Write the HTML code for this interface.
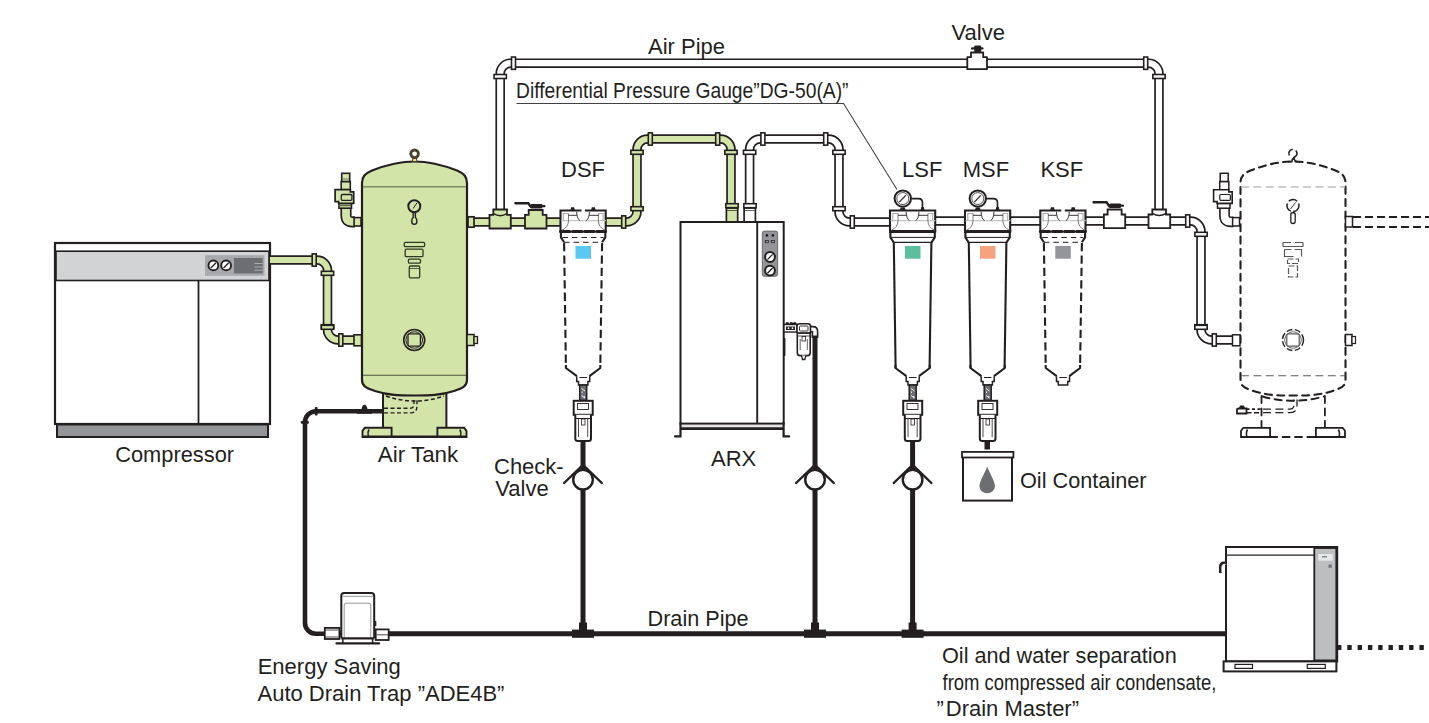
<!DOCTYPE html>
<html><head><meta charset="utf-8"><style>
html,body{margin:0;padding:0;background:#fff;overflow:hidden}
svg{display:block}
text{font-family:"Liberation Sans",sans-serif}
</style></head><body>
<svg width="1429" height="723" viewBox="0 0 1429 723">
<rect x="55" y="243" width="215" height="181" fill="#fff" stroke="#231f20" stroke-width="2.2"/>
<rect x="56" y="251.2" width="213" height="29.3" fill="#d1d3d4" stroke="#231f20" stroke-width="1.6"/>
<line x1="198.5" y1="280.5" x2="198.5" y2="424" stroke="#231f20" stroke-width="1.8"/>
<rect x="57" y="424.5" width="211" height="12.5" fill="#939598" stroke="#231f20" stroke-width="2"/>
<rect x="205" y="255.2" width="59.5" height="20.6" fill="#a7a9ac"/>
<circle cx="213.4" cy="265.4" r="4.9" fill="#fff" stroke="#231f20" stroke-width="1.9"/>
<line x1="210.8" y1="268" x2="216.0" y2="262.8" stroke="#231f20" stroke-width="1.3"/>
<circle cx="226.1" cy="265.4" r="4.9" fill="#fff" stroke="#231f20" stroke-width="1.9"/>
<line x1="223.5" y1="268" x2="228.7" y2="262.8" stroke="#231f20" stroke-width="1.3"/>
<rect x="234" y="258" width="28.6" height="15.4" fill="#6d6e71"/>
<line x1="254.5" y1="263.5" x2="262.6" y2="263.5" stroke="#bcbec0" stroke-width="0.8"/>
<line x1="254.5" y1="267" x2="262.6" y2="267" stroke="#bcbec0" stroke-width="0.8"/>
<line x1="254.5" y1="270.2" x2="262.6" y2="270.2" stroke="#bcbec0" stroke-width="0.8"/>
<text transform="translate(115.2,462.2) scale(1,1.04)" x="0" y="0" font-size="22" fill="#231f20" textLength="118.9" lengthAdjust="spacingAndGlyphs">Compressor</text>
<path d="M270,260 L317.00,260.00 A10.5,10.5 0 0 1 327.50,270.50 L327.50,329.50 A10.5,10.5 0 0 0 338.00,340.00 L356,340" fill="none" stroke="#231f20" stroke-width="9.6"/>
<path d="M270,260 L317.00,260.00 A10.5,10.5 0 0 1 327.50,270.50 L327.50,329.50 A10.5,10.5 0 0 0 338.00,340.00 L356,340" fill="none" stroke="#d3e4a8" stroke-width="6.199999999999999"/>
<rect x="312.20" y="253.85" width="4" height="12.3" fill="#d3e4a8" stroke="#231f20" stroke-width="1.6"/>
<rect x="321.35" y="271.30" width="12.3" height="4" fill="#d3e4a8" stroke="#231f20" stroke-width="1.6"/>
<rect x="321.35" y="324.70" width="12.3" height="4" fill="#d3e4a8" stroke="#231f20" stroke-width="1.6"/>
<rect x="338.80" y="333.85" width="4" height="12.3" fill="#d3e4a8" stroke="#231f20" stroke-width="1.6"/>
<rect x="321.35" y="325.30" width="12.3" height="4" fill="#d3e4a8" stroke="#231f20" stroke-width="1.6"/>
<rect x="354" y="334.8" width="7.5" height="11" fill="#d3e4a8" stroke="#231f20" stroke-width="1.6"/>
<path d="M383,392 L383,437 L446.4,437 L446.4,392 Z" fill="#d3e4a8" stroke="#231f20" stroke-width="2"/>
<path d="M362.5,437 L362.5,430.8 L364.8,427.8 L391.6,427.8 L391.6,437 Z" fill="#d3e4a8" stroke="#231f20" stroke-width="1.9"/>
<path d="M466.5,437 L466.5,430.8 L464.2,427.8 L437.4,427.8 L437.4,437 Z" fill="#d3e4a8" stroke="#231f20" stroke-width="1.9"/>
<path d="M369,429.5 Q367.3,432.3 368.3,436 M459.9,429.5 Q461.6,432.3 460.6,436" fill="none" stroke="#231f20" stroke-width="1.6"/>
<line x1="362.5" y1="436.6" x2="466.5" y2="436.6" stroke="#231f20" stroke-width="2.2"/>
<path d="M362,380 L362,183 C362,176.5 365,173.5 372,170.5 C388,164.3 402,161.5 414.5,161.5 C427,161.5 441,164.3 457,170.5 C464,173.5 467,176.5 467,183 L467,380 C467,386 463,388 454,391 C440,395.5 430,395.5 414.5,395.5 C399,395.5 389,395.5 375,391 C366,388 362,386 362,380 Z" fill="#d3e4a8" stroke="#231f20" stroke-width="2.2"/>
<line x1="363" y1="186.7" x2="466" y2="186.7" stroke="#7f8c68" stroke-width="1.6"/>
<line x1="363" y1="375.3" x2="466" y2="375.3" stroke="#4a5040" stroke-width="1.1"/>
<path d="M386,396 Q414.5,406 444,396" fill="none" stroke="#231f20" stroke-width="1.5" stroke-dasharray="4,2.5"/>
<path d="M384,408.2 L410,408.2 Q414,408.2 414,404 L414,400 M384,412.9 L411,412.9 Q417,412.9 417,406 L417,400" fill="none" stroke="#231f20" stroke-width="1.4" stroke-dasharray="4,2.5"/>
<path d="M412.3,161.5 L413.2,156.5 L416,156.5 L416.9,161.5 Z" fill="#e8d88a" stroke="#4a4030" stroke-width="1"/>
<circle cx="414.6" cy="153.8" r="3.8" fill="#fff" stroke="#4a4030" stroke-width="2.8"/>
<path d="M413.2,212.5 L413.2,217.5 Q411.8,218.5 411.8,220.5 L411.8,222 Q411.8,224.3 414.3,224.3 Q416.8,224.3 416.8,222 L416.8,220.5 Q416.8,218.5 415.4,217.5 L415.4,212.5" fill="#d3e4a8" stroke="#231f20" stroke-width="1.4"/>
<circle cx="414.3" cy="206.2" r="6" fill="#d3e4a8" stroke="#231f20" stroke-width="2"/>
<line x1="413.2" y1="208.5" x2="417" y2="202.8" stroke="#231f20" stroke-width="1"/>
<rect x="404.3" y="242.3" width="20.3" height="4.4" rx="1.2" fill="none" stroke="#2f3a22" stroke-width="1.3"/>
<rect x="405.2" y="249.2" width="17.8" height="7.4" rx="1.2" fill="none" stroke="#2f3a22" stroke-width="1.3"/>
<rect x="408.4" y="259.1" width="12.1" height="4.1" rx="1.2" fill="none" stroke="#2f3a22" stroke-width="1.3"/>
<rect x="409.3" y="266" width="10.4" height="11.8" rx="1.2" fill="none" stroke="#2f3a22" stroke-width="1.3"/>
<line x1="409.8" y1="268.5" x2="419.2" y2="268.5" stroke="#2f3a22" stroke-width="0.8"/>
<circle cx="414.2" cy="340" r="10.5" fill="#d3e4a8" stroke="#231f20" stroke-width="1.6"/>
<circle cx="414.2" cy="340" r="8.3" fill="none" stroke="#231f20" stroke-width="1"/>
<rect x="408" y="333.8" width="12.4" height="12.4" rx="1.5" fill="none" stroke="#231f20" stroke-width="1.3"/>
<rect x="467" y="334.5" width="7" height="11" fill="#d3e4a8" stroke="#231f20" stroke-width="1.5"/>
<rect x="474" y="336.5" width="3.5" height="7" fill="#d3e4a8" stroke="#231f20" stroke-width="1.3"/>
<path d="M346,206 L346,215.8 Q346,221.8 352,221.8 L355,221.8" fill="none" stroke="#231f20" stroke-width="11.2"/>
<path d="M346,206 L346,215.8 Q346,221.8 352,221.8 L355,221.8" fill="none" stroke="#d3e4a8" stroke-width="7.8"/>
<rect x="354.1" y="217.6" width="6.9" height="8.4" fill="#d3e4a8" stroke="#231f20" stroke-width="1.6"/>
<rect x="339" y="203.4" width="12.5" height="4.8" fill="#d3e4a8" stroke="#231f20" stroke-width="1.6"/>
<line x1="339.5" y1="205.6" x2="351" y2="205.6" stroke="#5a6a45" stroke-width="1.2"/>
<rect x="341.2" y="181.5" width="9.1" height="8.2" fill="#d3e4a8" stroke="#231f20" stroke-width="1.6"/>
<rect x="341.7" y="173.3" width="8" height="8.2" fill="#d3e4a8" stroke="#231f20" stroke-width="1.6"/>
<line x1="342.5" y1="179" x2="349" y2="179" stroke="#6a7a55" stroke-width="1"/>
<path d="M335.1,189.7 L350.3,189.7 L350.3,191.9 L353.7,191.9 L353.7,203.4 L338.6,203.4 L338.6,201.6 L335.1,201.6 Z" fill="#d3e4a8" stroke="#231f20" stroke-width="1.7"/>
<rect x="341.3" y="194.5" width="10.6" height="5.8" rx="1" fill="none" stroke="#231f20" stroke-width="1.3"/>
<text transform="translate(377.8,461.9) scale(1,1.04)" x="0" y="0" font-size="22" fill="#231f20" textLength="80.4" lengthAdjust="spacingAndGlyphs">Air Tank</text>
<path d="M383,411.2 L316,411.2 A11,11 0 0 0 305,422.2 L305,623 A10.8,10.8 0 0 0 315.8,633.8 L326,633.8" fill="none" stroke="#231f20" stroke-width="4.6"/>
<rect x="314.8" y="407" width="2.8" height="8.4" rx="1" fill="#231f20"/>
<rect x="300.8" y="420.9" width="8.1" height="2.8" rx="1" fill="#231f20"/>
<path d="M357,413.8 L357,409 L361.5,409 Q362.5,404.8 364.5,404.8 Q366.5,404.8 367.5,409 L372,409 L372,413.8 Z" fill="#231f20"/>
<path d="M500.2,215 L500.20,73.70 A10.5,10.5 0 0 1 510.70,63.20 L1148.50,63.20 A10.5,10.5 0 0 1 1159.00,73.70 L1159,215" fill="none" stroke="#231f20" stroke-width="9.6"/>
<path d="M500.2,215 L500.20,73.70 A10.5,10.5 0 0 1 510.70,63.20 L1148.50,63.20 A10.5,10.5 0 0 1 1159.00,73.70 L1159,215" fill="none" stroke="#ffffff" stroke-width="6.199999999999999"/>
<rect x="494.05" y="74.50" width="12.3" height="4" fill="#ffffff" stroke="#231f20" stroke-width="1.6"/>
<rect x="511.50" y="57.05" width="4" height="12.3" fill="#ffffff" stroke="#231f20" stroke-width="1.6"/>
<rect x="1143.70" y="57.05" width="4" height="12.3" fill="#ffffff" stroke="#231f20" stroke-width="1.6"/>
<rect x="1152.85" y="74.50" width="12.3" height="4" fill="#ffffff" stroke="#231f20" stroke-width="1.6"/>
<path d="M967.3,69.2 L967.3,57.2 L971,57.2 L971,52.5 L983.2,52.5 L983.2,57.2 L987,57.2 L987,69.2 Z" fill="#fff" stroke="#231f20" stroke-width="1.8" stroke-linejoin="round"/>
<rect x="974.2" y="45.5" width="7" height="6.5" rx="1.2" fill="#231f20"/>
<rect x="971" y="47.2" width="12.5" height="2.4" rx="1.2" fill="#231f20"/>
<text transform="translate(951.5,39.5) scale(1,1.04)" x="0" y="0" font-size="22" fill="#231f20">Valve</text>
<text transform="translate(648,54.2) scale(1,1.04)" x="0" y="0" font-size="22" fill="#231f20">Air Pipe</text>
<path d="M468,222 L560,222" fill="none" stroke="#231f20" stroke-width="9.6"/>
<path d="M468,222 L560,222" fill="none" stroke="#d3e4a8" stroke-width="6.199999999999999"/>
<rect x="468" y="216.8" width="6" height="10.4" fill="#d3e4a8" stroke="#231f20" stroke-width="1.7"/>
<path d="M489.5,228.5 L489.5,214.8 L493.3,214.8 L493.3,209.5 L507,209.5 L507,214.8 L510.8,214.8 L510.8,228.5 Z" fill="#d3e4a8" stroke="#231f20" stroke-width="1.8"/>
<path d="M493.5,213.5 Q500.2,218 507,213.5" fill="none" stroke="#231f20" stroke-width="1.4"/>
<path d="M525,228.5 L525,214.8 L528.7,214.8 L528.7,210 L542.7,210 L542.7,214.8 L546.5,214.8 L546.5,228.5 Z" fill="#d3e4a8" stroke="#231f20" stroke-width="1.8"/>
<rect x="530.8" y="204" width="11.5" height="4.5" rx="1" fill="#231f20"/>
<path d="M515.4,203.3 L528.3,203.3 L531.1,207.1" fill="none" stroke="#231f20" stroke-width="2.4" stroke-linecap="round"/>
<line x1="531" y1="206.2" x2="544.5" y2="206.2" stroke="#231f20" stroke-width="2.2" stroke-linecap="round"/>
<text transform="translate(561,176.7) scale(1,1.04)" x="0" y="0" font-size="22" fill="#231f20">DSF</text>
<path d="M606,222 L626.50,222.00 A10.5,10.5 0 0 0 637.00,211.50 L637.00,149.50 A10.5,10.5 0 0 1 647.50,139.00 L720.50,139.00 A10.5,10.5 0 0 1 731.00,149.50 L731,222" fill="none" stroke="#231f20" stroke-width="9.6"/>
<path d="M606,222 L626.50,222.00 A10.5,10.5 0 0 0 637.00,211.50 L637.00,149.50 A10.5,10.5 0 0 1 647.50,139.00 L720.50,139.00 A10.5,10.5 0 0 1 731.00,149.50 L731,222" fill="none" stroke="#d3e4a8" stroke-width="6.199999999999999"/>
<rect x="621.70" y="215.85" width="4" height="12.3" fill="#d3e4a8" stroke="#231f20" stroke-width="1.6"/>
<rect x="630.85" y="206.70" width="12.3" height="4" fill="#d3e4a8" stroke="#231f20" stroke-width="1.6"/>
<rect x="630.85" y="150.30" width="12.3" height="4" fill="#d3e4a8" stroke="#231f20" stroke-width="1.6"/>
<rect x="648.30" y="132.85" width="4" height="12.3" fill="#d3e4a8" stroke="#231f20" stroke-width="1.6"/>
<rect x="715.70" y="132.85" width="4" height="12.3" fill="#d3e4a8" stroke="#231f20" stroke-width="1.6"/>
<rect x="724.85" y="150.30" width="12.3" height="4" fill="#d3e4a8" stroke="#231f20" stroke-width="1.6"/>
<rect x="726.4" y="208" width="11.3" height="14" fill="#d3e4a8" stroke="#231f20" stroke-width="1.7"/>
<line x1="727.2" y1="210.5" x2="736.9" y2="210.5" stroke="#231f20" stroke-width="0.7"/>
<rect x="725.85" y="203.70" width="12.3" height="4" fill="#d3e4a8" stroke="#231f20" stroke-width="1.6"/>
<path d="M749.6,222 L749.60,149.50 A10.5,10.5 0 0 1 760.10,139.00 L828.50,139.00 A10.5,10.5 0 0 1 839.00,149.50 L839.00,211.50 A10.5,10.5 0 0 0 849.50,222.00 L889,222" fill="none" stroke="#231f20" stroke-width="9.6"/>
<path d="M749.6,222 L749.60,149.50 A10.5,10.5 0 0 1 760.10,139.00 L828.50,139.00 A10.5,10.5 0 0 1 839.00,149.50 L839.00,211.50 A10.5,10.5 0 0 0 849.50,222.00 L889,222" fill="none" stroke="#ffffff" stroke-width="6.199999999999999"/>
<rect x="743.45" y="150.30" width="12.3" height="4" fill="#ffffff" stroke="#231f20" stroke-width="1.6"/>
<rect x="760.90" y="132.85" width="4" height="12.3" fill="#ffffff" stroke="#231f20" stroke-width="1.6"/>
<rect x="823.70" y="132.85" width="4" height="12.3" fill="#ffffff" stroke="#231f20" stroke-width="1.6"/>
<rect x="832.85" y="150.30" width="12.3" height="4" fill="#ffffff" stroke="#231f20" stroke-width="1.6"/>
<rect x="832.85" y="206.70" width="12.3" height="4" fill="#ffffff" stroke="#231f20" stroke-width="1.6"/>
<rect x="850.30" y="215.85" width="4" height="12.3" fill="#ffffff" stroke="#231f20" stroke-width="1.6"/>
<rect x="744.1" y="208" width="11.3" height="14" fill="#fff" stroke="#231f20" stroke-width="1.7"/>
<line x1="744.9" y1="210.5" x2="754.6" y2="210.5" stroke="#231f20" stroke-width="0.7"/>
<rect x="743.85" y="203.70" width="12.3" height="4" fill="#ffffff" stroke="#231f20" stroke-width="1.6"/>
<path d="M936,221 L1190.50,221.00 A10.5,10.5 0 0 1 1201.00,231.50 L1201.00,329.50 A10.5,10.5 0 0 0 1211.50,340.00 L1240,340" fill="none" stroke="#231f20" stroke-width="9.6"/>
<path d="M936,221 L1190.50,221.00 A10.5,10.5 0 0 1 1201.00,231.50 L1201.00,329.50 A10.5,10.5 0 0 0 1211.50,340.00 L1240,340" fill="none" stroke="#ffffff" stroke-width="6.199999999999999"/>
<rect x="1185.70" y="214.85" width="4" height="12.3" fill="#ffffff" stroke="#231f20" stroke-width="1.6"/>
<rect x="1194.85" y="232.30" width="12.3" height="4" fill="#ffffff" stroke="#231f20" stroke-width="1.6"/>
<rect x="1194.85" y="324.70" width="12.3" height="4" fill="#ffffff" stroke="#231f20" stroke-width="1.6"/>
<rect x="1212.30" y="333.85" width="4" height="12.3" fill="#ffffff" stroke="#231f20" stroke-width="1.6"/>
<rect x="1194.85" y="325.30" width="12.3" height="4" fill="#ffffff" stroke="#231f20" stroke-width="1.6"/>
<path d="M564.1,243 L565.9,366.5" stroke="#231f20" stroke-width="2.1" fill="none" stroke-dasharray="8.3,4.1"/>
<path d="M602.1,243 L600.3,366.5" stroke="#231f20" stroke-width="2.1" fill="none" stroke-dasharray="8.3,4.1"/>
<path d="M565.9,365 L565.9,368 L576.9,376.2 M600.3,365 L600.3,368 L589.5,376.2" stroke="#231f20" stroke-width="2.1" fill="none" stroke-linejoin="round"/>
<path d="M576.7,376.2 L576.7,381.5 L578.5,381.5 L578.5,385 L587.9,385 L587.9,381.5 L589.7,381.5 L589.7,376.2" fill="#fff" stroke="#231f20" stroke-width="1.5"/>
<line x1="579.5" y1="377.5" x2="587.0" y2="377.5" stroke="#231f20" stroke-width="1"/>
<path d="M560.9,231.5 L560.9,237.4 L564.1,242.3 M605.3,231.5 L605.3,237.4 L602.1,242.3" stroke="#231f20" stroke-width="2.1" fill="none"/>
<line x1="562.5" y1="237.5" x2="603.5" y2="237.5" stroke="#231f20" stroke-width="1" stroke-dasharray="5.5,4"/>
<line x1="564.1" y1="242.3" x2="602.1" y2="242.3" stroke="#231f20" stroke-width="1" stroke-dasharray="5.5,4"/>
<rect x="575.5" y="246" width="15.5" height="12.7" fill="#5bc8f4"/>
<rect x="560.5" y="211" width="45.2" height="20.5" fill="#fff"/>
<path d="M560.5,231.5 L560.5,210.5 L605.7,210.5 L605.7,231.5" fill="none" stroke="#231f20" stroke-width="2.1"/>
<line x1="581.5" y1="210.5" x2="585.0" y2="210.5" stroke="#fff" stroke-width="3"/>
<line x1="560.5" y1="231.5" x2="605.7" y2="231.5" stroke="#231f20" stroke-width="3" stroke-dasharray="9.5,2.6" stroke-linecap="round"/>
<line x1="561.1" y1="220.7" x2="605.9" y2="220.7" stroke="#c4c5c7" stroke-width="1.3"/>
<path d="M563.3,220.7 L563.3,213.5 L568.5,213.5 M603.2,220.7 L603.2,213.5 L598.4,213.5" fill="none" stroke="#a7a9ac" stroke-width="1.1"/>
<path d="M568.5,213.5 L568.5,221 Q568.1,227.5 561.9,230.2 M598.4,213.5 L598.4,221 Q598.8,227.5 605.0,230.2" fill="none" stroke="#6d6e71" stroke-width="0.9"/>
<path d="M568.5,215.3 L576.8,215.3 M589.3,215.3 L598.4,215.3" fill="none" stroke="#231f20" stroke-width="0.9"/>
<path d="M576.6,211.8 Q577.0,219 580.0,220.6 M589.5,211.8 Q589.1,219 586.2,220.6" fill="none" stroke="#231f20" stroke-width="0.9"/>
<path d="M570.5,210.5 L571.0,207.2 L574.1,207.2 L575.0,210.5 Z M591.0,210.5 L591.8,207.2 L594.9,207.2 L595.7,210.5 Z" fill="#231f20"/>
<rect x="579.7" y="385" width="7" height="15.5" fill="#6d6e71" stroke="#231f20" stroke-width="1.5"/>
<path d="M581.5,388.5 L585.0,391 M582.0,391.5 L582.0,393 M581.5,395.5 L585.0,398 M584.3,396 L584.3,398" stroke="#fff" stroke-width="0.9"/>
<rect x="573.7" y="400.8" width="19" height="14" fill="#fff" stroke="#231f20" stroke-width="2"/>
<path d="M575.3,414.8 L575.3,438.5 Q575.3,441 577.8,441 L588.5,441 Q591.0,441 591.0,438.5 L591.0,414.8" fill="#fff" stroke="#231f20" stroke-width="2"/>
<rect x="577.5" y="403.5" width="11" height="6" fill="none" stroke="#231f20" stroke-width="0.9"/>
<line x1="575.3" y1="418.5" x2="591.0" y2="418.5" stroke="#231f20" stroke-width="1"/>
<path d="M578.5,419 L578.5,437 M587.7,419 L587.7,437" stroke="#231f20" stroke-width="0.8"/>
<rect x="581.5" y="419" width="3.5" height="6" fill="none" stroke="#231f20" stroke-width="0.8"/>
<path d="M893.8,242 L895.6,368" stroke="#231f20" stroke-width="2.1" fill="none"/>
<path d="M931.4,242 L929.6,368" stroke="#231f20" stroke-width="2.1" fill="none"/>
<path d="M895.4,365 L895.4,368 L906.4,376.2 M929.8,365 L929.8,368 L919,376.2" stroke="#231f20" stroke-width="2.1" fill="none" stroke-linejoin="round"/>
<path d="M906.2,376.2 L906.2,381.5 L908,381.5 L908,385 L917.4,385 L917.4,381.5 L919.2,381.5 L919.2,376.2" fill="#fff" stroke="#231f20" stroke-width="1.5"/>
<line x1="909" y1="377.5" x2="916.5" y2="377.5" stroke="#231f20" stroke-width="1"/>
<path d="M890.4,231.5 L890.4,237.4 L893.6,242.3 M934.8,231.5 L934.8,237.4 L931.6,242.3" stroke="#231f20" stroke-width="2.1" fill="none"/>
<line x1="890.4" y1="237.4" x2="934.8" y2="237.4" stroke="#231f20" stroke-width="1"/>
<line x1="893.6" y1="242.3" x2="931.6" y2="242.3" stroke="#231f20" stroke-width="1.2"/>
<rect x="905" y="246" width="15.5" height="12.7" fill="#5bbf9d"/>
<rect x="890" y="211" width="45.2" height="20.5" fill="#fff"/>
<path d="M890,231.5 L890,210.5 L935.2,210.5 L935.2,231.5" fill="none" stroke="#231f20" stroke-width="2.1"/>
<line x1="889" y1="231.5" x2="936.2" y2="231.5" stroke="#231f20" stroke-width="2.8"/>
<line x1="890.6" y1="220.7" x2="935.4" y2="220.7" stroke="#c4c5c7" stroke-width="1.3"/>
<path d="M892.8,220.7 L892.8,213.5 L898,213.5 M932.7,220.7 L932.7,213.5 L927.9,213.5" fill="none" stroke="#a7a9ac" stroke-width="1.1"/>
<path d="M898,213.5 L898,221 Q897.6,227.5 891.4,230.2 M927.9,213.5 L927.9,221 Q928.3,227.5 934.5,230.2" fill="none" stroke="#6d6e71" stroke-width="0.9"/>
<path d="M898,215.3 L906.3,215.3 M918.8,215.3 L927.9,215.3" fill="none" stroke="#231f20" stroke-width="0.9"/>
<path d="M906.1,211.8 Q906.5,219 909.5,220.6 M919,211.8 Q918.6,219 915.7,220.6" fill="none" stroke="#231f20" stroke-width="0.9"/>
<path d="M911.8,198.6 L918.5,198.6 Q922.5,198.6 922.5,203 L922.5,208.5" fill="none" stroke="#231f20" stroke-width="1.6"/>
<path d="M920.5,210.5 L921.3,207 L923.8,207 L924.6,210.5 Z M899.8,210.5 L900.8,207.5 L904.8,207.5 L905.8,210.5 Z" fill="#231f20"/>
<circle cx="902.8" cy="198.6" r="8.2" fill="#fff" stroke="#231f20" stroke-width="2"/>
<circle cx="902.8" cy="198.6" r="6" fill="none" stroke="#231f20" stroke-width="0.8"/>
<line x1="899.3" y1="202.1" x2="905.8" y2="195.4" stroke="#231f20" stroke-width="1.2"/>
<rect x="909.2" y="385" width="7" height="15.5" fill="#6d6e71" stroke="#231f20" stroke-width="1.5"/>
<path d="M911,388.5 L914.5,391 M911.5,391.5 L911.5,393 M911,395.5 L914.5,398 M913.8,396 L913.8,398" stroke="#fff" stroke-width="0.9"/>
<rect x="903.2" y="400.8" width="19" height="14" fill="#fff" stroke="#231f20" stroke-width="2"/>
<path d="M904.8,414.8 L904.8,438.5 Q904.8,441 907.3,441 L918,441 Q920.5,441 920.5,438.5 L920.5,414.8" fill="#fff" stroke="#231f20" stroke-width="2"/>
<rect x="907" y="403.5" width="11" height="6" fill="none" stroke="#231f20" stroke-width="0.9"/>
<line x1="904.8" y1="418.5" x2="920.5" y2="418.5" stroke="#231f20" stroke-width="1"/>
<path d="M908,419 L908,437 M917.2,419 L917.2,437" stroke="#231f20" stroke-width="0.8"/>
<rect x="911" y="419" width="3.5" height="6" fill="none" stroke="#231f20" stroke-width="0.8"/>
<path d="M968.8,242 L970.6,368" stroke="#231f20" stroke-width="2.1" fill="none"/>
<path d="M1006.4,242 L1004.6,368" stroke="#231f20" stroke-width="2.1" fill="none"/>
<path d="M970.4,365 L970.4,368 L981.4,376.2 M1004.8,365 L1004.8,368 L994,376.2" stroke="#231f20" stroke-width="2.1" fill="none" stroke-linejoin="round"/>
<path d="M981.2,376.2 L981.2,381.5 L983,381.5 L983,385 L992.4,385 L992.4,381.5 L994.2,381.5 L994.2,376.2" fill="#fff" stroke="#231f20" stroke-width="1.5"/>
<line x1="984" y1="377.5" x2="991.5" y2="377.5" stroke="#231f20" stroke-width="1"/>
<path d="M965.4,231.5 L965.4,237.4 L968.6,242.3 M1009.8,231.5 L1009.8,237.4 L1006.6,242.3" stroke="#231f20" stroke-width="2.1" fill="none"/>
<line x1="965.4" y1="237.4" x2="1009.8" y2="237.4" stroke="#231f20" stroke-width="1"/>
<line x1="968.6" y1="242.3" x2="1006.6" y2="242.3" stroke="#231f20" stroke-width="1.2"/>
<rect x="980" y="246" width="15.5" height="12.7" fill="#f5a27f"/>
<rect x="965" y="211" width="45.2" height="20.5" fill="#fff"/>
<path d="M965,231.5 L965,210.5 L1010.2,210.5 L1010.2,231.5" fill="none" stroke="#231f20" stroke-width="2.1"/>
<line x1="964" y1="231.5" x2="1011.2" y2="231.5" stroke="#231f20" stroke-width="2.8"/>
<line x1="965.6" y1="220.7" x2="1010.4" y2="220.7" stroke="#c4c5c7" stroke-width="1.3"/>
<path d="M967.8,220.7 L967.8,213.5 L973,213.5 M1007.7,220.7 L1007.7,213.5 L1002.9,213.5" fill="none" stroke="#a7a9ac" stroke-width="1.1"/>
<path d="M973,213.5 L973,221 Q972.6,227.5 966.4,230.2 M1002.9,213.5 L1002.9,221 Q1003.3,227.5 1009.5,230.2" fill="none" stroke="#6d6e71" stroke-width="0.9"/>
<path d="M973,215.3 L981.3,215.3 M993.8,215.3 L1002.9,215.3" fill="none" stroke="#231f20" stroke-width="0.9"/>
<path d="M981.1,211.8 Q981.5,219 984.5,220.6 M994,211.8 Q993.6,219 990.7,220.6" fill="none" stroke="#231f20" stroke-width="0.9"/>
<path d="M986.8,198.6 L993.5,198.6 Q997.5,198.6 997.5,203 L997.5,208.5" fill="none" stroke="#231f20" stroke-width="1.6"/>
<path d="M995.5,210.5 L996.3,207 L998.8,207 L999.6,210.5 Z M974.8,210.5 L975.8,207.5 L979.8,207.5 L980.8,210.5 Z" fill="#231f20"/>
<circle cx="977.8" cy="198.6" r="8.2" fill="#fff" stroke="#231f20" stroke-width="2"/>
<circle cx="977.8" cy="198.6" r="6" fill="none" stroke="#231f20" stroke-width="0.8"/>
<line x1="974.3" y1="202.1" x2="980.8" y2="195.4" stroke="#231f20" stroke-width="1.2"/>
<rect x="984.2" y="385" width="7" height="15.5" fill="#6d6e71" stroke="#231f20" stroke-width="1.5"/>
<path d="M986,388.5 L989.5,391 M986.5,391.5 L986.5,393 M986,395.5 L989.5,398 M988.8,396 L988.8,398" stroke="#fff" stroke-width="0.9"/>
<rect x="978.2" y="400.8" width="19" height="14" fill="#fff" stroke="#231f20" stroke-width="2"/>
<path d="M979.8,414.8 L979.8,438.5 Q979.8,441 982.3,441 L993,441 Q995.5,441 995.5,438.5 L995.5,414.8" fill="#fff" stroke="#231f20" stroke-width="2"/>
<rect x="982" y="403.5" width="11" height="6" fill="none" stroke="#231f20" stroke-width="0.9"/>
<line x1="979.8" y1="418.5" x2="995.5" y2="418.5" stroke="#231f20" stroke-width="1"/>
<path d="M983,419 L983,437 M992.2,419 L992.2,437" stroke="#231f20" stroke-width="0.8"/>
<rect x="986" y="419" width="3.5" height="6" fill="none" stroke="#231f20" stroke-width="0.8"/>
<path d="M1043.8999999999999,243 L1045.7,366.5" stroke="#231f20" stroke-width="2.1" fill="none" stroke-dasharray="8.3,4.1"/>
<path d="M1081.8999999999999,243 L1080.1,366.5" stroke="#231f20" stroke-width="2.1" fill="none" stroke-dasharray="8.3,4.1"/>
<path d="M1045.7,365 L1045.7,368 L1056.7,376.2 M1080.1,365 L1080.1,368 L1069.3,376.2" stroke="#231f20" stroke-width="2.1" fill="none" stroke-linejoin="round"/>
<path d="M1056.5,376.2 L1056.5,381.5 L1058.3,381.5 L1058.3,385 L1067.7,385 L1067.7,381.5 L1069.5,381.5 L1069.5,376.2" fill="#fff" stroke="#231f20" stroke-width="1.5"/>
<line x1="1059.3" y1="377.5" x2="1066.8" y2="377.5" stroke="#231f20" stroke-width="1"/>
<path d="M1040.7,231.5 L1040.7,237.4 L1043.8999999999999,242.3 M1085.1,231.5 L1085.1,237.4 L1081.8999999999999,242.3" stroke="#231f20" stroke-width="2.1" fill="none"/>
<line x1="1042.3" y1="237.5" x2="1083.3" y2="237.5" stroke="#231f20" stroke-width="1" stroke-dasharray="5.5,4"/>
<line x1="1043.8999999999999" y1="242.3" x2="1081.8999999999999" y2="242.3" stroke="#231f20" stroke-width="1" stroke-dasharray="5.5,4"/>
<rect x="1055.3" y="246" width="15.5" height="12.7" fill="#939598"/>
<rect x="1040.3" y="211" width="45.2" height="20.5" fill="#fff"/>
<path d="M1040.3,231.5 L1040.3,210.5 L1085.5,210.5 L1085.5,231.5" fill="none" stroke="#231f20" stroke-width="2.1"/>
<line x1="1061.3" y1="210.5" x2="1064.8" y2="210.5" stroke="#fff" stroke-width="3"/>
<line x1="1040.3" y1="231.5" x2="1085.5" y2="231.5" stroke="#231f20" stroke-width="3" stroke-dasharray="9.5,2.6" stroke-linecap="round"/>
<line x1="1040.8999999999999" y1="220.7" x2="1085.7" y2="220.7" stroke="#c4c5c7" stroke-width="1.3"/>
<path d="M1043.1,220.7 L1043.1,213.5 L1048.3,213.5 M1083.0,220.7 L1083.0,213.5 L1078.2,213.5" fill="none" stroke="#a7a9ac" stroke-width="1.1"/>
<path d="M1048.3,213.5 L1048.3,221 Q1047.8999999999999,227.5 1041.7,230.2 M1078.2,213.5 L1078.2,221 Q1078.6,227.5 1084.8,230.2" fill="none" stroke="#6d6e71" stroke-width="0.9"/>
<path d="M1048.3,215.3 L1056.6,215.3 M1069.1,215.3 L1078.2,215.3" fill="none" stroke="#231f20" stroke-width="0.9"/>
<path d="M1056.3999999999999,211.8 Q1056.8,219 1059.8,220.6 M1069.3,211.8 Q1068.8999999999999,219 1066.0,220.6" fill="none" stroke="#231f20" stroke-width="0.9"/>
<path d="M1050.3,210.5 L1050.8,207.2 L1053.8999999999999,207.2 L1054.8,210.5 Z M1070.8,210.5 L1071.6,207.2 L1074.7,207.2 L1075.5,210.5 Z" fill="#231f20"/>
<text transform="translate(902,176.7) scale(1,1.04)" x="0" y="0" font-size="22" fill="#231f20">LSF</text>
<text transform="translate(962.8,176.7) scale(1,1.04)" x="0" y="0" font-size="22" fill="#231f20">MSF</text>
<text transform="translate(1040.4,176.7) scale(1,1.04)" x="0" y="0" font-size="22" fill="#231f20">KSF</text>
<rect x="680.5" y="222" width="103.2" height="201.6" fill="#fff" stroke="#231f20" stroke-width="2"/>
<line x1="757.2" y1="222" x2="757.2" y2="423.6" stroke="#231f20" stroke-width="1.9"/>
<line x1="680.5" y1="428.6" x2="783.6" y2="428.6" stroke="#231f20" stroke-width="2.6"/>
<line x1="681.5" y1="426" x2="782.6" y2="426" stroke="#c7c8ca" stroke-width="1"/>
<path d="M680.5,423 L680.5,436.4 L675,436.4 M783.6,423 L783.6,436.4 L789.1,436.4" fill="none" stroke="#231f20" stroke-width="2.2" stroke-linecap="round"/>
<rect x="762.3" y="231.1" width="15.3" height="45.2" rx="2" fill="#939598" stroke="#58595b" stroke-width="0.8"/>
<circle cx="766.9" cy="235.4" r="1.3" fill="#231f20"/>
<rect x="765.1999999999999" y="240.5" width="3.4" height="2.2" fill="none" stroke="#231f20" stroke-width="0.7"/>
<circle cx="772.9" cy="235.4" r="1.3" fill="#231f20"/>
<rect x="771.1999999999999" y="240.5" width="3.4" height="2.2" fill="none" stroke="#231f20" stroke-width="0.7"/>
<circle cx="770" cy="257" r="4.9" fill="#fff" stroke="#231f20" stroke-width="2"/>
<line x1="767.4" y1="259.6" x2="772.6" y2="254.4" stroke="#231f20" stroke-width="1.3"/>
<circle cx="770" cy="270.6" r="4.9" fill="#fff" stroke="#231f20" stroke-width="2"/>
<line x1="767.4" y1="273.20000000000005" x2="772.6" y2="268.0" stroke="#231f20" stroke-width="1.3"/>
<line x1="784.5" y1="338" x2="784.5" y2="356" stroke="#231f20" stroke-width="1.8"/>
<text transform="translate(711,466) scale(1,1.04)" x="0" y="0" font-size="22" fill="#231f20">ARX</text>
<rect x="784" y="324.5" width="13" height="7.5" fill="#fff" stroke="#231f20" stroke-width="1.4"/>
<path d="M786,324.5 L786,322.8 L788.5,322.8 L788.5,324.5 M790,324.5 L790,322.8 L792.5,322.8 L792.5,324.5 M793.5,324.5 L793.5,322.8 L796,322.8 L796,324.5" fill="#231f20" stroke="#231f20" stroke-width="1"/>
<rect x="786" y="326.5" width="9" height="3.5" fill="#231f20"/>
<circle cx="788.5" cy="328.2" r="0.9" fill="#fff"/><circle cx="792.5" cy="328.2" r="0.9" fill="#fff"/>
<path d="M810.5,329.2 L813,329.2 Q815,329.2 815,331.5 L815,338" fill="none" stroke="#231f20" stroke-width="6.8"/>
<path d="M810.5,329.2 L813,329.2 Q815,329.2 815,331.5 L815,335.5" fill="none" stroke="#fff" stroke-width="3.6"/>
<path d="M797,333 L797,326 Q797,323.7 799.5,323.7 L808,323.7 Q810.5,323.7 810.5,326 L810.5,333" fill="#fff" stroke="#231f20" stroke-width="1.6"/>
<rect x="799.5" y="326" width="8.5" height="5" rx="0.8" fill="none" stroke="#231f20" stroke-width="0.9"/>
<path d="M797.3,333 L797.3,352.8 Q797.3,355.6 800,355.6 L807.5,355.6 Q810.2,355.6 810.2,352.8 L810.2,333 Z" fill="#fff" stroke="#231f20" stroke-width="1.6"/>
<line x1="797.3" y1="333.2" x2="810.2" y2="333.2" stroke="#231f20" stroke-width="1.2"/>
<line x1="797.3" y1="336" x2="810.2" y2="336" stroke="#231f20" stroke-width="0.8"/>
<rect x="802" y="336.5" width="3.4" height="4.5" fill="none" stroke="#231f20" stroke-width="0.8"/>
<path d="M800.2,339 L800.2,350 M807.3,339 L807.3,350" stroke="#231f20" stroke-width="0.7"/>
<path d="M801.5,355.6 L802.5,359.5 L804.8,359.5 L805.8,355.6" fill="#fff" stroke="#231f20" stroke-width="1.3"/>
<g transform="translate(878.5,0)">
<path d="M362,380 L362,183 C362,176.5 365,173.5 372,170.5 C388,164.3 402,161.5 414.5,161.5 C427,161.5 441,164.3 457,170.5 C464,173.5 467,176.5 467,183 L467,380 C467,386 463,388 454,391 C440,395.5 430,395.5 414.5,395.5 C399,395.5 389,395.5 375,391 C366,388 362,386 362,380 Z" fill="#fff" stroke="#231f20" stroke-width="2.1" stroke-dasharray="7,5.4" stroke-linecap="round"/>
<line x1="363" y1="187" x2="466" y2="187" stroke="#bcbec0" stroke-width="1.6" stroke-dasharray="7,5.4" stroke-linecap="round"/>
<line x1="363" y1="375.8" x2="466" y2="375.8" stroke="#58595b" stroke-width="1.1" stroke-dasharray="7,5.4" stroke-linecap="round"/>
<path d="M383,396 L383,437 M446.4,396 L446.4,437" fill="none" stroke="#231f20" stroke-width="1.8" stroke-dasharray="7,5.4" stroke-linecap="round"/>
<path d="M391.6,437 L362.5,437 L362.5,430.8 L364.8,427.8 L391.6,427.8 Z M437.4,437 L466.5,437 L466.5,430.8 L464.2,427.8 L437.4,427.8 Z" fill="#fff" stroke="#231f20" stroke-width="1.8"/>
<path d="M369,429.5 Q367.3,432.3 368.3,436 M459.9,429.5 Q461.6,432.3 460.6,436" fill="none" stroke="#231f20" stroke-width="1.6"/>
<line x1="391.7" y1="437" x2="437.5" y2="437" stroke="#231f20" stroke-width="1.8" stroke-dasharray="7,5.4" stroke-linecap="round"/>
<path d="M384,396.5 Q414.5,405 445.5,396.5" fill="none" stroke="#231f20" stroke-width="2" stroke-dasharray="7,5.4" stroke-linecap="round"/>
<path d="M385,409.1 L411,409.1 Q415.5,409.1 415.5,404.5 L415.5,400 M385,412.7 L411,412.7 Q418.5,412.7 418.5,405.5 L418.5,400" fill="none" stroke="#231f20" stroke-width="1.3" stroke-dasharray="7,5.4" stroke-linecap="round"/>
<path d="M358.5,413.5 L358.5,410 Q358.5,408.5 360.5,408.5 L368,408.5 L368,413.5 Z" fill="#fff" stroke="#231f20" stroke-width="1.8"/>
<path d="M361,408.5 L362,406 L365,406 L366,408.5" fill="#231f20" stroke="#231f20" stroke-width="1.2"/>
<line x1="368" y1="412.7" x2="383" y2="412.7" stroke="#231f20" stroke-width="1.6" stroke-dasharray="5,2.5"/>
<line x1="368" y1="409.1" x2="383" y2="409.1" stroke="#231f20" stroke-width="1.6" stroke-dasharray="3,2.5"/>
<path d="M410.8,155.5 A4.3,4.3 0 0 1 414.3,149.2 M417.2,150.5 A4.3,4.3 0 0 1 417.5,156 L415.5,157.5 Q413.5,159 413.3,161.8 L409.5,161.8 M415.5,157.5 Q416,161.8 419,161.8 L421.5,161.8" fill="none" stroke="#231f20" stroke-width="1.6"/>
<circle cx="414.5" cy="205.6" r="6" fill="none" stroke="#231f20" stroke-width="1.5" stroke-dasharray="9,2.5"/>
<line x1="412" y1="209" x2="417" y2="202.5" stroke="#231f20" stroke-width="0.9"/>
<rect x="412.3" y="212.5" width="4.4" height="11" rx="2.2" fill="#fff" stroke="#231f20" stroke-width="1.3"/>
<path d="M404.5,242.5 h8 M416.5,242.5 h8 M404.5,246.5 h20 M404.5,242.5 v4 M424.5,242.5 v4" fill="none" stroke="#58595b" stroke-width="1.2"/>
<path d="M406,249.5 h7 M416,249.5 h7 v7 M406,249.5 v7 h9" fill="none" stroke="#58595b" stroke-width="1.2"/>
<path d="M409,259 h11 v4.5 h-11 z M410,266 h9 v11 h-9 z" fill="none" stroke="#58595b" stroke-width="1.2" stroke-dasharray="6,2"/>
<circle cx="414.5" cy="340" r="10.5" fill="none" stroke="#231f20" stroke-width="1.4" stroke-dasharray="6,2.5"/>
<circle cx="414.5" cy="340" r="8.3" fill="none" stroke="#58595b" stroke-width="0.9"/>
<rect x="408.3" y="333.8" width="12.4" height="12.4" rx="1.5" fill="none" stroke="#58595b" stroke-width="1.2"/>
<rect x="467" y="216.5" width="7" height="10.5" fill="#fff" stroke="#231f20" stroke-width="1.5"/>
<rect x="467" y="334.5" width="6.5" height="11" fill="#fff" stroke="#231f20" stroke-width="1.5"/>
<rect x="473.5" y="336.5" width="3.5" height="7" fill="#fff" stroke="#231f20" stroke-width="1.2"/>
<rect x="354" y="334.8" width="7.5" height="11" fill="#fff" stroke="#231f20" stroke-width="1.5"/>
<path d="M346,206 L346,215.8 Q346,221.8 352,221.8 L355,221.8" fill="none" stroke="#231f20" stroke-width="10.8"/>
<path d="M346,206 L346,215.8 Q346,221.8 352,221.8 L355,221.8" fill="none" stroke="#fff" stroke-width="7.6"/>
<rect x="354.1" y="217.6" width="6.9" height="8.4" fill="#fff" stroke="#231f20" stroke-width="1.5"/>
<rect x="339" y="203.4" width="12.5" height="4.8" fill="#fff" stroke="#231f20" stroke-width="1.5"/>
<rect x="341.2" y="181.5" width="9.1" height="8.2" fill="#fff" stroke="#231f20" stroke-width="1.5"/>
<rect x="341.7" y="173.3" width="8" height="8.2" fill="#fff" stroke="#231f20" stroke-width="1.5"/>
<path d="M335.1,189.7 L350.3,189.7 L350.3,191.9 L353.7,191.9 L353.7,203.4 L338.6,203.4 L338.6,201.6 L335.1,201.6 Z" fill="#fff" stroke="#231f20" stroke-width="1.6"/>
<rect x="341.3" y="194.5" width="10.6" height="5.8" rx="1" fill="none" stroke="#231f20" stroke-width="1.2"/>
</g>
<path d="M1353,217 L1429,217 M1353,227 L1429,227" fill="none" stroke="#231f20" stroke-width="2" stroke-dasharray="8,4"/>
<line x1="326" y1="633.8" x2="1226" y2="633.8" stroke="#231f20" stroke-width="5"/>
<line x1="583" y1="441" x2="583" y2="634" stroke="#231f20" stroke-width="5"/>
<circle cx="583" cy="479.7" r="9.8" fill="#fff" stroke="#231f20" stroke-width="2.4"/>
<path d="M564.1,483.0 L583,464.9 L601.8,483.0" fill="none" stroke="#231f20" stroke-width="2.4" stroke-linecap="round" stroke-linejoin="miter"/>
<rect x="572" y="629.6" width="22" height="8.2" fill="#231f20"/>
<rect x="579" y="622.5" width="8" height="8" fill="#231f20"/>
<line x1="815" y1="336" x2="815" y2="634" stroke="#231f20" stroke-width="5"/>
<circle cx="815" cy="479.7" r="9.8" fill="#fff" stroke="#231f20" stroke-width="2.4"/>
<path d="M796.1,483.0 L815,464.9 L833.8,483.0" fill="none" stroke="#231f20" stroke-width="2.4" stroke-linecap="round" stroke-linejoin="miter"/>
<rect x="804" y="629.6" width="22" height="8.2" fill="#231f20"/>
<rect x="811" y="622.5" width="8" height="8" fill="#231f20"/>
<line x1="912.6" y1="441" x2="912.6" y2="634" stroke="#231f20" stroke-width="5"/>
<circle cx="912.6" cy="479.7" r="9.8" fill="#fff" stroke="#231f20" stroke-width="2.4"/>
<path d="M893.7,483.0 L912.6,464.9 L931.4,483.0" fill="none" stroke="#231f20" stroke-width="2.4" stroke-linecap="round" stroke-linejoin="miter"/>
<rect x="901.6" y="629.6" width="22" height="8.2" fill="#231f20"/>
<rect x="908.6" y="622.5" width="8" height="8" fill="#231f20"/>
<rect x="984.5" y="441" width="5.5" height="8.5" fill="#231f20"/>
<rect x="963" y="455" width="49" height="45.6" fill="#fff" stroke="#231f20" stroke-width="2"/>
<rect x="962" y="451.9" width="51.4" height="5.6" fill="#fff" stroke="#231f20" stroke-width="1.8"/>
<path d="M987.2,466.5 C985,473 979.5,481 979.5,486 C979.5,490.5 983,493.2 987.2,493.2 C991.4,493.2 994.9,490.5 994.9,486 C994.9,481 989.4,473 987.2,466.5 Z" fill="#6d6e71"/>
<text transform="translate(1020,488) scale(1,1.04)" x="0" y="0" font-size="22" fill="#231f20" textLength="126.6" lengthAdjust="spacingAndGlyphs">Oil Container</text>
<rect x="324.8" y="627.9" width="14.6" height="11.1" fill="#fff" stroke="#231f20" stroke-width="1.8"/>
<line x1="325.5" y1="630" x2="338.5" y2="630" stroke="#231f20" stroke-width="0.8"/><line x1="325.5" y1="637" x2="338.5" y2="637" stroke="#231f20" stroke-width="0.8"/>
<rect x="375.7" y="629.4" width="13" height="10.6" fill="#fff" stroke="#231f20" stroke-width="1.8"/>
<line x1="376.5" y1="634.8" x2="388" y2="634.8" stroke="#231f20" stroke-width="0.8"/>
<path d="M341.3,638.2 L341.3,596 Q341.3,593.1 344.2,593.1 L371.3,593.1 Q374.2,593.1 374.2,596 L374.2,638.2" fill="#fff" stroke="#231f20" stroke-width="2"/>
<line x1="342.3" y1="596.3" x2="373.2" y2="596.3" stroke="#939598" stroke-width="1"/>
<path d="M344.2,638 L344.2,605 Q344.2,603.2 346,603.2 L369,603.2 Q370.8,603.2 370.8,605 L370.8,638" fill="none" stroke="#939598" stroke-width="1"/>
<line x1="341.3" y1="638.3" x2="374.2" y2="638.3" stroke="#231f20" stroke-width="2.3"/>
<path d="M342.8,638.5 L342.8,643.4 M372.6,638.5 L372.6,643.4" stroke="#231f20" stroke-width="1.5"/>
<line x1="336.5" y1="643.4" x2="379.1" y2="643.4" stroke="#231f20" stroke-width="2.2" stroke-linecap="round"/>
<rect x="374.5" y="621" width="1.8" height="5" fill="#231f20"/>
<rect x="1226" y="547" width="111.2" height="114.4" fill="#fff" stroke="#231f20" stroke-width="2"/>
<rect x="1314.3" y="548" width="22" height="112.4" fill="#bcbec0" stroke="#231f20" stroke-width="1.8"/>
<line x1="1227" y1="555.2" x2="1314.3" y2="555.2" stroke="#231f20" stroke-width="1.3"/>
<rect x="1318.3" y="554" width="14.4" height="6.7" fill="#e6e7e8"/>
<line x1="1322" y1="556.8" x2="1327" y2="556.8" stroke="#58595b" stroke-width="1"/>
<rect x="1328.5" y="564.5" width="3.2" height="3.2" fill="#6d6e71"/>
<rect x="1223.6" y="661.4" width="112.8" height="10" fill="#fff" stroke="#231f20" stroke-width="2"/>
<rect x="1235" y="664.4" width="17.5" height="4" fill="#fff" stroke="#231f20" stroke-width="1.2"/>
<rect x="1307.3" y="664.4" width="18" height="4" fill="#fff" stroke="#231f20" stroke-width="1.2"/>
<path d="M1226,563 L1224,563 Q1220.5,563 1220.5,567 L1220.5,573" fill="none" stroke="#231f20" stroke-width="3"/>
<path d="M1226,564.3 L1224,564.3 Q1221.8,564.3 1221.8,567 L1221.8,572.5" fill="none" stroke="#fff" stroke-width="0.8"/>
<line x1="1337" y1="647.6" x2="1429" y2="647.6" stroke="#231f20" stroke-width="5" stroke-dasharray="4.4,5.9"/>
<text transform="translate(516,98.4) scale(1,1.04)" x="0" y="0" font-size="22" fill="#231f20" textLength="332.5" lengthAdjust="spacingAndGlyphs">Differential Pressure Gauge”DG-50(A)”</text>
<path d="M516.5,103.5 L843.5,103.5 L897,189.5" fill="none" stroke="#414042" stroke-width="1.05"/>
<text transform="translate(494,474) scale(1,1.04)" x="0" y="0" font-size="22" fill="#231f20">Check-</text>
<text transform="translate(495.3,496) scale(1,1.04)" x="0" y="0" font-size="22" fill="#231f20">Valve</text>
<text transform="translate(647.5,625.8) scale(1,1.04)" x="0" y="0" font-size="22" fill="#231f20" textLength="101.1" lengthAdjust="spacingAndGlyphs">Drain Pipe</text>
<text transform="translate(257.7,674.2) scale(1,1.04)" x="0" y="0" font-size="22" fill="#231f20">Energy Saving</text>
<text transform="translate(257.5,700.8) scale(1,1.04)" x="0" y="0" font-size="22" fill="#231f20">Auto Drain Trap ”ADE4B”</text>
<text transform="translate(942,662.9) scale(1,1.04)" x="0" y="0" font-size="22" fill="#231f20" textLength="234.7" lengthAdjust="spacingAndGlyphs">Oil and water separation</text>
<text transform="translate(942.6,689.6) scale(1,1.04)" x="0" y="0" font-size="22" fill="#231f20" textLength="273.7" lengthAdjust="spacingAndGlyphs">from compressed air condensate,</text>
<text transform="translate(936.6,716) scale(1,1.04)" x="0" y="0" font-size="22" fill="#231f20">”</text>
<text transform="translate(945.8,716) scale(1,1.04)" x="0" y="0" font-size="22" fill="#231f20">Drain Master”</text>
<path d="M1103.9,228.2 L1103.9,214.5 L1107.6,214.5 L1107.6,209.5 L1121.6,209.5 L1121.6,214.5 L1125.2,214.5 L1125.2,228.2 Z" fill="#fff" stroke="#231f20" stroke-width="1.8"/>
<rect x="1109.5" y="203.5" width="11.5" height="4.5" rx="1" fill="#231f20"/>
<path d="M1093.5,202.2 L1106.5,202.2 L1109.5,206.5" fill="none" stroke="#231f20" stroke-width="2.4" stroke-linecap="round"/>
<line x1="1109.5" y1="205.7" x2="1123" y2="205.7" stroke="#231f20" stroke-width="2.2" stroke-linecap="round"/>
<path d="M1148.5,228.2 L1148.5,214.5 L1152.3,214.5 L1152.3,209.5 L1166,209.5 L1166,214.5 L1170.2,214.5 L1170.2,228.2 Z" fill="#fff" stroke="#231f20" stroke-width="1.8"/>
<path d="M1152.5,213.3 Q1159.2,217.8 1166,213.3" fill="none" stroke="#231f20" stroke-width="1.4"/>
</svg></body></html>
